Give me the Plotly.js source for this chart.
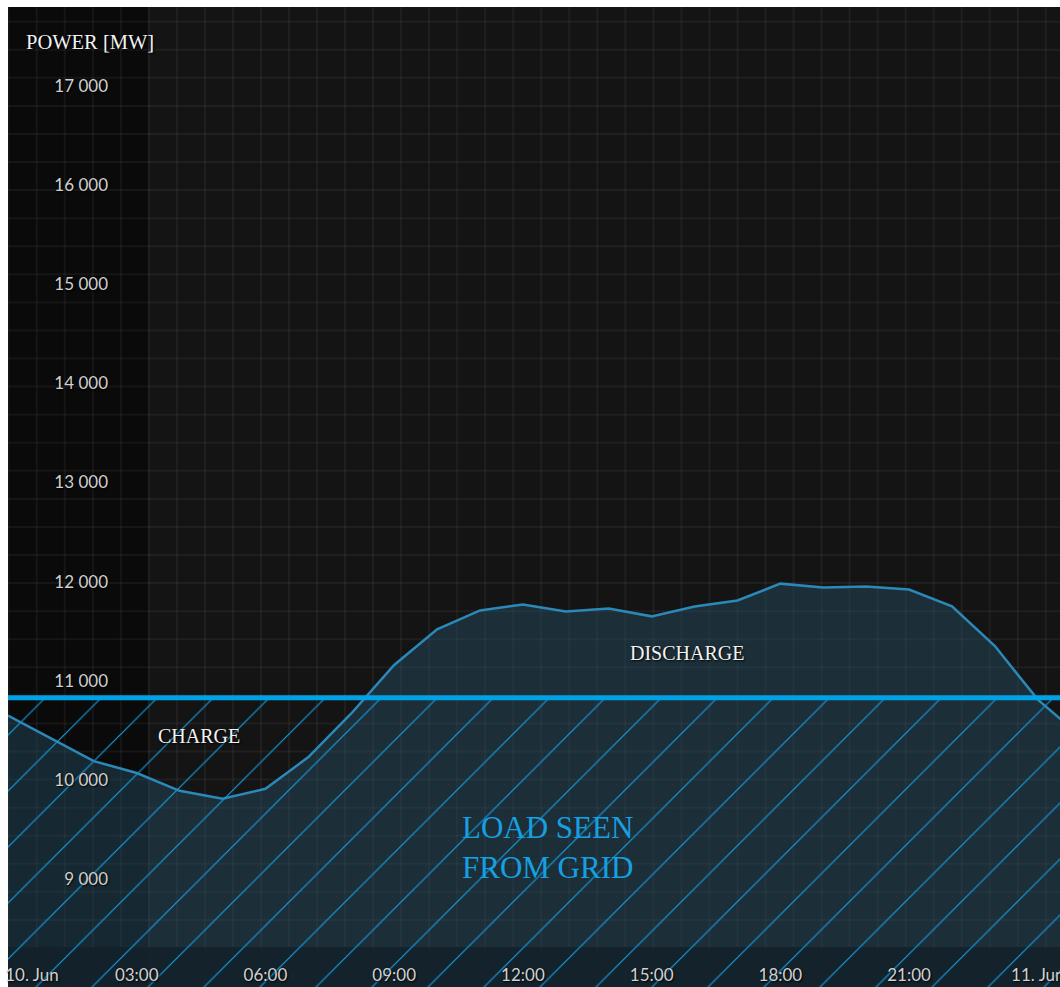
<!DOCTYPE html>
<html>
<head>
<meta charset="utf-8">
<script src="https://cdn.plot.ly/plotly-3.0.1.min.js"></script>
<style>
  html, body { margin: 0; padding: 0; background: #ffffff; }
  #chart { width: 1060px; height: 987px; }
</style>
</head>
<body>
<div id="chart"></div>
<script>
// ---- data ----
const times = [
  '2024-06-10 00:00', '2024-06-10 01:00', '2024-06-10 02:00', '2024-06-10 03:00',
  '2024-06-10 04:00', '2024-06-10 05:00', '2024-06-10 06:00', '2024-06-10 07:00',
  '2024-06-10 08:00', '2024-06-10 09:00', '2024-06-10 10:00', '2024-06-10 11:00',
  '2024-06-10 12:00', '2024-06-10 13:00', '2024-06-10 14:00', '2024-06-10 15:00',
  '2024-06-10 16:00', '2024-06-10 17:00', '2024-06-10 18:00', '2024-06-10 19:00',
  '2024-06-10 20:00', '2024-06-10 21:00', '2024-06-10 22:00', '2024-06-10 23:00',
  '2024-06-11 00:00', '2024-06-11 01:00'
];
const loadMW = [
  10650, 10420, 10190, 10070, 9890, 9810, 9910, 10230,
  10670, 11160, 11520, 11710, 11770, 11700, 11730, 11650,
  11750, 11810, 11980, 11940, 11950, 11920, 11750, 11350,
  10810, 10440
];
const thresholdMW = 10830;
const axisFloorMW = 8314;

const xTickVals = [
  '2024-06-10 00:00', '2024-06-10 03:00', '2024-06-10 06:00', '2024-06-10 09:00',
  '2024-06-10 12:00', '2024-06-10 15:00', '2024-06-10 18:00', '2024-06-10 21:00',
  '2024-06-11 00:00'
];
const xTickText = ['10. Jun', '03:00', '06:00', '09:00', '12:00', '15:00', '18:00', '21:00', '11. Jun'];
const yTickVals = [9000, 10000, 11000, 12000, 13000, 14000, 15000, 16000, 17000];
const yTickText = ['9 000', '10 000', '11 000', '12 000', '13 000', '14 000', '15 000', '16 000', '17 000'];

const labelCharge = 'CHARGE';
const labelDischarge = 'DISCHARGE';
const labelLoad = 'LOAD SEEN<br>FROM GRID';
const labelAxis = 'POWER [MW]';

// ---- layout helpers (pixel -> paper) ----
const W = 1060, H = 987, ML = 8, MT = 7, MR = 0, MB = 0;
const PW = W - ML - MR, PH = H - MT - MB;
const fx = px => (px - ML) / PW;
const fy = py => 1 - (py - MT) / PH;

const shapes = [];
// darker left column
shapes.push({type: 'rect', xref: 'paper', yref: 'paper', x0: 0, x1: fx(148), y0: 0, y1: 1,
  fillcolor: '#0a0a0a', line: {width: 0}, layer: 'below'});
// background square grid
for (let px = 8.7; px < W; px += 28.03) {
  shapes.push({type: 'line', xref: 'paper', yref: 'paper', x0: fx(px), x1: fx(px), y0: 0, y1: 1,
    line: {color: 'rgba(255,255,255,0.05)', width: 2}, layer: 'below'});
}
for (let py = 21.7; py < H; py += 28.07) {
  shapes.push({type: 'line', xref: 'paper', yref: 'paper', x0: 0, x1: 1, y0: fy(py), y1: fy(py),
    line: {color: 'rgba(255,255,255,0.05)', width: 2}, layer: 'below'});
}
// bottom axis band
shapes.push({type: 'rect', xref: 'paper', yref: 'paper', x0: 0, x1: 1, y0: 0, y1: fy(947),
  fillcolor: 'rgba(20,36,45,0.93)', line: {width: 0}, layer: 'below'});

const xStart = times[0], xEnd = times[times.length - 1];

// Highcharts-style justification of the first x label (keeps it inside the plot)
const pad = '\u00a0'.repeat(11);
const xTickTextShown = xTickText.map((t, i) => i === 0 ? pad + t : t);

const traces = [
  { // floor for the area
    x: [xStart, xEnd], y: [axisFloorMW, axisFloorMW], mode: 'lines',
    line: {width: 0, color: 'rgba(0,0,0,0)'}, hoverinfo: 'skip', showlegend: false
  },
  { // load area
    x: times, y: loadMW, mode: 'lines', fill: 'tonexty',
    fillcolor: 'rgba(40,88,110,0.40)', line: {width: 0, color: 'rgba(0,0,0,0)'},
    hoverinfo: 'skip', showlegend: false
  },
  { // hatch below threshold
    x: [xStart, xEnd], y: [thresholdMW, thresholdMW], mode: 'lines', fill: 'tozeroy',
    fillcolor: 'rgba(0,0,0,0)',
    fillpattern: {shape: '/', size: 39.6, solidity: 0.028, fgcolor: '#10a0e8', bgcolor: 'rgba(0,0,0,0)', fgopacity: 1},
    line: {width: 0, color: 'rgba(0,0,0,0)'}, hoverinfo: 'skip', showlegend: false
  },
  { // load line
    x: times, y: loadMW, mode: 'lines',
    line: {color: '#2b89b9', width: 2.5}, name: 'Load', showlegend: false
  },
  { // threshold line
    x: [xStart, xEnd], y: [thresholdMW, thresholdMW], mode: 'lines',
    line: {color: '#00a2e6', width: 5}, name: 'Threshold', showlegend: false
  }
];

const tickFont = {family: 'Lato, "Open Sans", sans-serif', size: 17, color: '#d0d0d0', shadow: '1px 1px 2px #000'};
const serif = '"Liberation Serif", "DejaVu Serif", serif';

const layout = {
  width: W, height: H,
  margin: {l: ML, r: MR, t: MT, b: MB, pad: 0},
  paper_bgcolor: '#ffffff',
  plot_bgcolor: '#141414',
  showlegend: false,
  xaxis: {
    type: 'date',
    range: ['2024-06-10 00:00', '2024-06-11 00:31'],
    showgrid: false, zeroline: false, showline: false,
    tickmode: 'array', tickvals: xTickVals, ticktext: xTickTextShown,
    ticks: '', ticklabelposition: 'inside', ticklabeloverflow: 'allow',
    ticklabelstandoff: 0,
    tickfont: tickFont,
    fixedrange: true
  },
  yaxis: {
    range: [7911, 17797],
    showgrid: false, zeroline: false, showline: false,
    tickmode: 'array', tickvals: yTickVals, ticktext: yTickText,
    ticks: '', ticklabelposition: 'outside', ticklabeloverflow: 'allow',
    ticklabelstandoff: -101,
    tickfont: tickFont,
    fixedrange: true
  },
  shapes: shapes,
  annotations: [
    {xref: 'paper', yref: 'paper', x: fx(24), y: fy(42), xanchor: 'left', yanchor: 'middle',
     text: labelAxis, showarrow: false,
     font: {family: serif, size: 20.5, color: '#f2f2f2', shadow: '1px 1px 2px #000'}},
    {x: '2024-06-10 04:27', y: 10443, xanchor: 'center', yanchor: 'middle',
     text: labelCharge, showarrow: false,
     font: {family: serif, size: 20, color: '#f2f2f2', shadow: '1px 1px 2px #000'}},
    {x: '2024-06-10 15:50', y: 11280, xanchor: 'center', yanchor: 'middle',
     text: labelDischarge, showarrow: false,
     font: {family: serif, size: 20, color: '#f2f2f2', shadow: '1px 1px 2px #000'}},
    {x: '2024-06-10 10:32', y: 9318, xanchor: 'left', yanchor: 'middle', align: 'left',
     text: labelLoad, showarrow: false,
     font: {family: serif, size: 31, color: '#16a0e2'}}
  ]
};

Plotly.newPlot('chart', traces, layout, {displayModeBar: false, staticPlot: true});
</script>
</body>
</html>
